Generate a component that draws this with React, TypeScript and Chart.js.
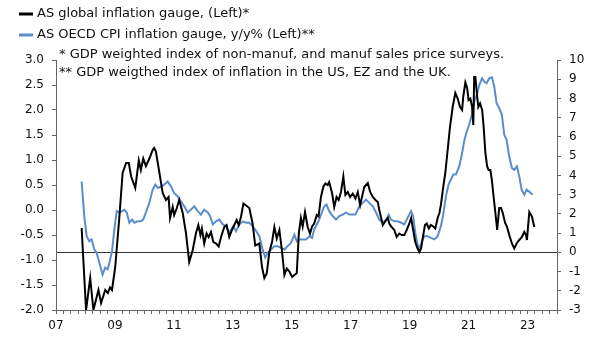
import React, { useEffect, useRef } from 'react';
import { Chart, registerables } from 'chart.js';

Chart.register(...registerables);

// AS global inflation gauge (left axis)
const blackYears = [
  2007.87, 2008.02, 2008.16, 2008.27, 2008.44, 2008.53, 2008.67, 2008.76, 2008.83, 2008.90,
  2009.01, 2009.15, 2009.26, 2009.38, 2009.47, 2009.55, 2009.69, 2009.81, 2009.88, 2009.96,
  2010.05, 2010.17, 2010.28, 2010.33, 2010.39, 2010.51, 2010.62, 2010.73, 2010.82, 2010.87,
  2010.96, 2011.01, 2011.10, 2011.18, 2011.30, 2011.41, 2011.52, 2011.64, 2011.75, 2011.83,
  2011.90, 2011.95, 2012.03, 2012.11, 2012.18, 2012.26, 2012.34, 2012.43, 2012.52, 2012.60,
  2012.71, 2012.79, 2012.88, 2012.97, 2013.05, 2013.13, 2013.20, 2013.28, 2013.36, 2013.45,
  2013.56, 2013.67, 2013.76, 2013.90, 2013.99, 2014.07, 2014.15, 2014.24, 2014.33, 2014.41,
  2014.49, 2014.58, 2014.67, 2014.75, 2014.83, 2014.92, 2015.01, 2015.09, 2015.17, 2015.24,
  2015.31, 2015.37, 2015.45, 2015.54, 2015.62, 2015.69, 2015.76, 2015.85, 2015.91, 2015.99,
  2016.07, 2016.14, 2016.22, 2016.27, 2016.37, 2016.44, 2016.52, 2016.59, 2016.67, 2016.75,
  2016.82, 2016.90, 2016.98, 2017.07, 2017.16, 2017.24, 2017.32, 2017.41, 2017.46, 2017.58,
  2017.66, 2017.75, 2017.84, 2017.92, 2017.97, 2018.09, 2018.17, 2018.26, 2018.31, 2018.37,
  2018.48, 2018.56, 2018.65, 2018.73, 2018.82, 2018.90, 2018.97, 2019.05, 2019.12, 2019.19,
  2019.27, 2019.33, 2019.39, 2019.44, 2019.52, 2019.58, 2019.65, 2019.72, 2019.80, 2019.87,
  2019.95, 2020.01, 2020.06, 2020.14, 2020.21, 2020.29, 2020.37, 2020.46, 2020.55, 2020.63,
  2020.71, 2020.78, 2020.82, 2020.89, 2020.95, 2021.00, 2021.06, 2021.12, 2021.16, 2021.19,
  2021.23, 2021.28, 2021.33, 2021.39, 2021.46, 2021.51, 2021.57, 2021.63, 2021.68, 2021.74,
  2021.79, 2021.85, 2021.91, 2021.97, 2022.04, 2022.10, 2022.16, 2022.24, 2022.30, 2022.38,
  2022.47, 2022.55, 2022.63, 2022.72, 2022.81, 2022.89, 2022.95, 2022.98, 2023.06, 2023.15,
  2023.23,
];
const blackValues = [
  -0.36, -2.0, -1.36, -2.0, -1.60, -1.86, -1.60, -1.66, -1.55, -1.60,
  -1.14, -0.14, 0.74, 0.94, 0.94, 0.67, 0.44, 0.99, 0.80, 1.03,
  0.88, 1.03, 1.20, 1.24, 1.17, 0.74, 0.34, 0.20, 0.26, -0.16,
  0.06, -0.10, 0.04, 0.20, -0.06, -0.46, -1.04, -0.80, -0.46, -0.30,
  -0.50, -0.37, -0.67, -0.47, -0.54, -0.44, -0.64, -0.67, -0.73, -0.54,
  -0.34, -0.30, -0.54, -0.40, -0.30, -0.20, -0.30, -0.13, 0.13, 0.09,
  0.04, -0.27, -0.71, -0.67, -1.14, -1.36, -1.27, -0.84, -0.64, -0.34,
  -0.57, -0.40, -0.83, -1.30, -1.17, -1.23, -1.34, -1.30, -1.26, -0.46,
  -0.16, -0.33, -0.04, -0.34, -0.47, -0.33, -0.27, -0.10, -0.13, 0.26,
  0.46, 0.53, 0.50, 0.56, 0.33, 0.06, 0.26, 0.20, 0.36, 0.67,
  0.30, 0.36, 0.26, 0.33, 0.23, 0.36, 0.10, 0.33, 0.46, 0.54,
  0.36, 0.26, 0.20, 0.16, 0.00, -0.30, -0.23, -0.16, -0.27, -0.33,
  -0.40, -0.54, -0.47, -0.50, -0.50, -0.40, -0.30, -0.16, -0.40, -0.64,
  -0.77, -0.84, -0.77, -0.57, -0.30, -0.27, -0.37, -0.30, -0.33, -0.37,
  -0.16, -0.06, 0.10, 0.46, 0.74, 1.20, 1.67, 2.06, 2.34, 2.23,
  2.06, 2.00, 2.27, 2.55, 2.44, 2.20, 2.23, 2.06, 1.70, 2.66,
  2.66, 2.34, 2.06, 2.13, 2.00, 1.67, 1.14, 0.87, 0.80, 0.80,
  0.60, 0.26, -0.06, -0.40, 0.04, 0.04, -0.06, -0.26, -0.33, -0.50,
  -0.67, -0.77, -0.67, -0.60, -0.54, -0.44, -0.50, -0.60, -0.04, -0.13,
  -0.34,
];

// AS OECD CPI inflation gauge, y/y% (right axis)
const blueYears = [
  2007.87, 2007.96, 2008.04, 2008.13, 2008.21, 2008.30, 2008.38, 2008.47, 2008.58, 2008.67,
  2008.75, 2008.81, 2008.90, 2008.98, 2009.06, 2009.15, 2009.24, 2009.32, 2009.40, 2009.49,
  2009.58, 2009.66, 2009.77, 2009.88, 2009.96, 2010.05, 2010.17, 2010.28, 2010.37, 2010.46,
  2010.67, 2010.79, 2010.90, 2011.01, 2011.13, 2011.24, 2011.35, 2011.47, 2011.58, 2011.69,
  2011.81, 2011.92, 2012.03, 2012.15, 2012.23, 2012.32, 2012.43, 2012.54, 2012.66, 2012.77,
  2012.86, 2012.94, 2013.02, 2013.11, 2013.22, 2013.34, 2013.45, 2013.56, 2013.67, 2013.76,
  2013.90, 2014.01, 2014.10, 2014.18, 2014.30, 2014.41, 2014.52, 2014.64, 2014.75, 2014.86,
  2014.97, 2015.09, 2015.17, 2015.26, 2015.37, 2015.48, 2015.60, 2015.69, 2015.76, 2015.85,
  2015.93, 2016.02, 2016.10, 2016.18, 2016.27, 2016.39, 2016.50, 2016.61, 2016.73, 2016.84,
  2016.95, 2017.07, 2017.16, 2017.29, 2017.41, 2017.52, 2017.63, 2017.75, 2017.86, 2017.97,
  2018.09, 2018.20, 2018.29, 2018.37, 2018.48, 2018.59, 2018.71, 2018.82, 2018.93, 2019.05,
  2019.12, 2019.19, 2019.27, 2019.33, 2019.42, 2019.50, 2019.61, 2019.72, 2019.84, 2019.95,
  2020.06, 2020.14, 2020.23, 2020.32, 2020.40, 2020.48, 2020.57, 2020.68, 2020.78, 2020.86,
  2020.94, 2021.02, 2021.11, 2021.19, 2021.28, 2021.36, 2021.46, 2021.53, 2021.61, 2021.70,
  2021.79, 2021.87, 2021.95, 2022.04, 2022.13, 2022.21, 2022.29, 2022.38, 2022.47, 2022.55,
  2022.64, 2022.72, 2022.80, 2022.89, 2022.97, 2023.04, 2023.11, 2023.17,
];
const blueValues = [
  3.68, 1.87, 0.84, 0.58, 0.67, 0.15, -0.03, -0.53, -1.16, -0.80,
  -0.89, -0.55, 0.06, 1.18, 2.14, 2.07, 2.14, 2.21, 2.07, 1.54,
  1.70, 1.54, 1.61, 1.61, 1.70, 2.07, 2.58, 3.26, 3.52, 3.35,
  3.52, 3.68, 3.43, 3.08, 2.91, 2.65, 2.39, 2.07, 2.22, 2.39,
  2.14, 1.96, 2.22, 2.07, 1.88, 1.45, 1.61, 1.70, 1.45, 1.36,
  1.02, 1.18, 1.36, 1.09, 1.45, 1.61, 1.54, 1.54, 1.36, 1.18,
  0.84, 0.15, -0.27, -0.03, 0.15, 0.32, 0.32, 0.23, 0.15, 0.32,
  0.49, 0.92, 0.58, 0.67, 0.67, 0.67, 0.84, 0.75, 1.18, 1.45,
  1.70, 2.07, 2.39, 2.48, 2.14, 1.88, 1.70, 1.88, 1.96, 2.07,
  1.96, 1.96, 1.96, 2.39, 2.57, 2.74, 2.57, 2.39, 2.07, 1.70,
  1.54, 1.70, 1.96, 1.70, 1.61, 1.61, 1.54, 1.45, 1.79, 2.14,
  1.88, 1.02, 0.40, 0.15, 0.58, 0.84, 0.84, 0.75, 0.67, 0.84,
  1.36, 1.96, 2.91, 3.52, 3.77, 4.04, 4.04, 4.47, 5.16, 5.85,
  6.28, 6.63, 7.15, 7.84, 8.19, 8.70, 9.05, 8.88, 8.79, 9.05,
  9.10, 8.62, 7.75, 7.50, 7.15, 6.11, 5.85, 4.98, 4.38, 4.29,
  4.47, 3.95, 3.26, 2.99, 3.26, 3.17, 3.08, 2.99,
];

const xTickYears = [2007, 2009, 2011, 2013, 2015, 2017, 2019, 2021, 2023];
const xTickLabels = ['07', '09', '11', '13', '15', '17', '19', '21', '23'];

const seriesNames = [
  'AS global inflation gauge, (Left)*',
  'AS OECD CPI inflation gauge, y/y% (Left)**',
];
const seriesColors = ['#000000', '#5b8dcb'];
const footnotes = [
  '* GDP weighted index of non-manuf, and manuf sales price surveys.',
  '** GDP weigthed index of inflation in the US, EZ and the UK.',
];

const FONT = '"DejaVu Sans", Verdana, sans-serif';

const textPlugin = {
  id: 'legendAndNotes',
  afterDraw(chart: any) {
    const ctx = chart.ctx;
    ctx.save();
    ctx.font = `13px ${FONT}`;
    ctx.textBaseline = 'middle';
    ctx.textAlign = 'left';
    const legendY = [14, 35];
    seriesNames.forEach((name, i) => {
      ctx.strokeStyle = seriesColors[i];
      ctx.lineWidth = 3;
      ctx.beginPath();
      ctx.moveTo(19, legendY[i]);
      ctx.lineTo(33, legendY[i]);
      ctx.stroke();
      ctx.fillStyle = '#111';
      ctx.fillText(name, 37, legendY[i]);
    });
    const noteY = [55, 73];
    footnotes.forEach((t, i) => {
      ctx.fillStyle = '#111';
      ctx.fillText(t, 59, noteY[i]);
    });
    ctx.restore();
  },
};

export default function App() {
  const ref = useRef<HTMLCanvasElement | null>(null);
  useEffect(() => {
    if (!ref.current) return;
    const tickFont = { family: FONT, size: 12 };
    const chart = new Chart(ref.current, {
      type: 'line',
      data: {
        datasets: [
          {
            label: seriesNames[0],
            data: blackYears.map((x, i) => ({ x, y: blackValues[i] })),
            borderColor: seriesColors[0],
            borderWidth: 2,
            pointRadius: 0,
            tension: 0,
            yAxisID: 'y',
          },
          {
            label: seriesNames[1],
            data: blueYears.map((x, i) => ({ x, y: blueValues[i] })),
            borderColor: seriesColors[1],
            borderWidth: 2,
            pointRadius: 0,
            tension: 0,
            yAxisID: 'y2',
          },
        ],
      },
      options: {
        animation: false,
        responsive: false,
        layout: { padding: { top: 60, left: 0, right: 0, bottom: 0 } },
        plugins: { legend: { display: false }, tooltip: { enabled: false } },
        scales: {
          x: {
            type: 'linear',
            position: 'bottom',
            min: 2007,
            max: 2024,
            afterFit: (s: any) => { s.height = 37; },
            ticks: {
              stepSize: 0.25,
              autoSkip: false,
              maxRotation: 0,
              padding: 5,
              color: '#111',
              font: tickFont,
              callback: (v: any) => {
                const i = xTickYears.indexOf(Math.round(Number(v) * 100) / 100);
                return i >= 0 ? xTickLabels[i] : '';
              },
            },
            grid: { drawOnChartArea: false, drawTicks: true, tickLength: 4, color: '#666' },
            border: { color: '#666' },
          },
          y: {
            type: 'linear',
            position: 'left',
            min: -2,
            max: 3,
            afterFit: (s: any) => { s.width = 56; },
            ticks: {
              stepSize: 0.5,
              padding: 8,
              color: '#111',
              font: tickFont,
              callback: (v: any) => Number(v).toFixed(1),
            },
            grid: { drawOnChartArea: false, drawTicks: true, tickLength: 4, color: '#666' },
            border: { color: '#666' },
          },
          y2: {
            type: 'linear',
            position: 'right',
            min: -3,
            max: 10,
            afterFit: (s: any) => { s.width = 55; },
            ticks: {
              stepSize: 1,
              padding: 8,
              color: '#111',
              font: tickFont,
              callback: (v: any) => String(v),
            },
            grid: {
              drawOnChartArea: true,
              drawTicks: true,
              tickLength: 4,
              tickColor: '#666',
              lineWidth: 1,
              color: (c: any) => (c.tick && c.tick.value === 0 ? '#333' : 'rgba(0,0,0,0)'),
            },
            border: { color: '#666' },
          },
        },
      },
      plugins: [textPlugin],
    });
    return () => chart.destroy();
  }, []);
  return (
    <div style={{ position: 'absolute', left: 0, top: 0, width: 612, height: 347, background: '#fff' }}>
      <canvas ref={ref} width={612} height={347} style={{ width: 612, height: 347, display: 'block' }} />
    </div>
  );
}
